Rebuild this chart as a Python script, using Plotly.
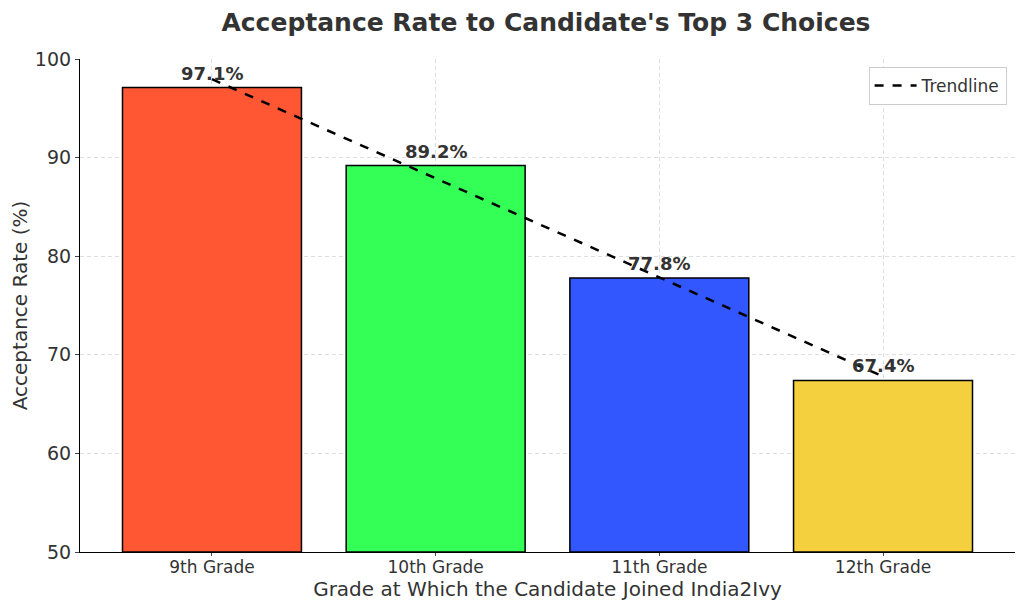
import numpy as np
import plotly.graph_objects as go

categories = ["9th Grade", "10th Grade", "11th Grade", "12th Grade"]
rates = [97.1, 89.2, 77.8, 67.4]
colors = ["#FF5733", "#33FF57", "#3357FF", "#F4D03F"]
y_ticks = [50, 60, 70, 80, 90, 100]

x_idx = np.arange(len(categories))
slope, intercept = np.polyfit(x_idx, rates, 1)
trend = slope * x_idx + intercept

FONT = "DejaVu Sans"
TXT = "#333333"

fig = go.Figure()
fig.add_trace(go.Bar(
    x=x_idx, y=[r - 50 for r in rates], base=50, width=0.8,
    marker=dict(color=colors, line=dict(color="black", width=1.5)),
    showlegend=False, hoverinfo="skip",
))
fig.add_trace(go.Scatter(
    x=x_idx, y=trend, mode="lines", name="Trendline",
    line=dict(color="black", width=2.5, dash="dash"),
))
for i, r in enumerate(rates):
    fig.add_annotation(x=i, y=r + 0.2, text=f"<b>{r}%</b>", showarrow=False,
                       yanchor="bottom", font=dict(family=FONT, size=18, color=TXT))

fig.update_layout(
    width=1016, height=602,
    margin=dict(l=72, r=9, t=51, b=58),
    paper_bgcolor="white", plot_bgcolor="white",
    font=dict(family=FONT, color=TXT),
    title=dict(text="<b>Acceptance Rate to Candidate's Top 3 Choices</b>",
               x=0.5295, xanchor="center", y=0.976, yanchor="middle",
               font=dict(family=FONT, size=25, color=TXT)),
    legend=dict(x=0.991, y=0.984, xanchor="right", yanchor="top",
                bgcolor="white", bordercolor="#cccccc", borderwidth=1,
                itemwidth=42, tracegroupgap=0,
                font=dict(family=FONT, size=17, color=TXT)),
    bargap=0.2,
)
fig.update_xaxes(
    range=[-0.59, 3.59], tickmode="array", tickvals=list(x_idx), ticktext=categories,
    showline=True, linecolor="black", linewidth=1.2, ticks="outside", ticklen=3,
    ticklabelstandoff=-4,
    tickfont=dict(family=FONT, size=17, color=TXT),
    showgrid=True, gridcolor="#dedede", griddash="4px,3px", gridwidth=1,
    title=dict(text="Grade at Which the Candidate Joined India2Ivy",
               font=dict(family=FONT, size=20, color=TXT), standoff=4),
    zeroline=False,
)
fig.update_yaxes(
    range=[50, 100], tickvals=y_ticks,
    showline=True, linecolor="black", linewidth=1.2, ticks="outside", ticklen=4,
    tickfont=dict(family=FONT, size=19, color=TXT),
    showgrid=True, gridcolor="#dedede", griddash="4px,3px", gridwidth=1,
    title=dict(text="Acceptance Rate (%)", font=dict(family=FONT, size=20, color=TXT), standoff=4),
    zeroline=False,
)

fig.write_html("out.html")
